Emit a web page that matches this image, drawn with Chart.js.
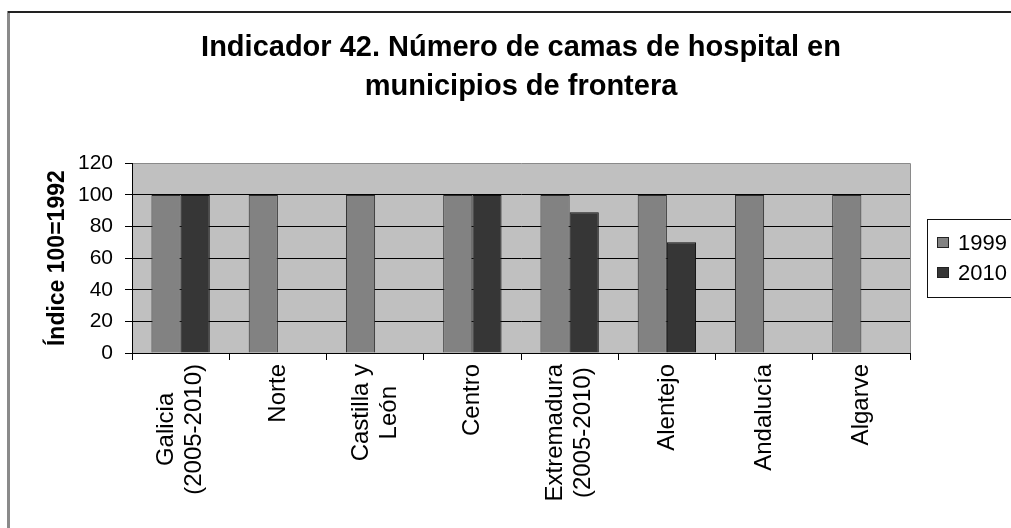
<!DOCTYPE html>
<html>
<head>
<meta charset="utf-8">
<script src="https://cdn.jsdelivr.net/npm/chart.js@4"></script>
<style>
  html, body { margin: 0; padding: 0; background: #fff; }
  #wrap { width: 1011px; height: 528px; }
</style>
</head>
<body>
<div id="wrap"><canvas id="bar-chart" width="1011" height="528"></canvas></div>
<script>
// Data
var regions = [
    ['Galicia', '(2005-2010)'],
    'Norte',
    ['Castilla y', 'León'],
    'Centro',
    ['Extremadura', '(2005-2010)'],
    'Alentejo',
    'Andalucía',
    'Algarve'
];
var values1999 = [100, 100, 100, 100, 100, 100, 100, 100];
var values2010 = [100, null, null, 100, 89, 70, null, null];
var seriesNames = ['1999', '2010'];
var yTicks = [0, 20, 40, 60, 80, 100, 120];

Chart.defaults.font.family = '"Liberation Sans", Arial, sans-serif';
Chart.defaults.color = '#000';

// plot background, frame and legend box
var decor = {
    id: 'decor',
    beforeDraw: function(chart) {
        var c = chart.ctx, a = chart.chartArea;
        c.save();
        c.fillStyle = '#fff';
        c.fillRect(0, 0, chart.width, chart.height);
        c.fillStyle = '#c0c0c0';
        c.fillRect(a.left, a.top, a.right - a.left, a.bottom - a.top);
        c.fillStyle = '#8a8a8a';
        c.fillRect(7, 11, 3, chart.height);
        c.fillStyle = '#222';
        c.fillRect(8, 11, chart.width, 2);
        c.restore();

        // center the rotated two-line category labels like the original
        var xs = chart.scales.x;
        var items = xs.getLabelItems(chart.chartArea);
        items.forEach(function(it) {
            if (it._fixed || !Array.isArray(it.label)) return;
            c.save();
            c.font = it.font.string;
            var w = 0;
            it.label.forEach(function(l) { w = Math.max(w, c.measureText(l).width); });
            c.restore();
            var lh = it.font.lineHeight;
            it.options.translation[0] -= (it.label.length - 1) * lh / 2;
            it.options.translation[1] += w / 2;
            it.options.textAlign = 'center';
            it._fixed = true;
        });
    },
    afterDraw: function(chart) {
        var c = chart.ctx, a = chart.chartArea;
        c.save();
        c.strokeStyle = '#8a8a8a';
        c.lineWidth = 1;
        c.beginPath();
        c.moveTo(a.right + 0.5, a.top);
        c.lineTo(a.right + 0.5, a.bottom);
        c.stroke();

        // legend
        c.strokeStyle = '#111';
        c.strokeRect(927.5, 219.5, 110, 78);
        c.font = '22px "Liberation Sans", Arial, sans-serif';
        c.textBaseline = 'middle';
        chart.data.datasets.forEach(function(ds, i) {
            var y = 243 + i * 30;
            c.fillStyle = ds.backgroundColor;
            c.fillRect(937, y - 6, 12, 11);
            c.strokeStyle = '#222';
            c.strokeRect(937.5, y - 5.5, 11, 10);
            c.fillStyle = '#000';
            c.fillText(ds.label, 958, y + 1);
        });
        c.restore();
    }
};

var ctx = document.getElementById('bar-chart').getContext('2d');

var config = {
    type: 'bar',
    data: {
        labels: regions,
        datasets: [{
            label: seriesNames[0],
            data: values1999,
            backgroundColor: '#828282',
            borderColor: '#2a2a2a',
            borderWidth: 1,
            categoryPercentage: 0.6,
            barPercentage: 1.0
        }, {
            label: seriesNames[1],
            data: values2010,
            backgroundColor: '#363636',
            borderColor: '#111',
            borderWidth: 1,
            categoryPercentage: 0.6,
            barPercentage: 1.0
        }]
    },
    options: {
        responsive: false,
        animation: false,
        devicePixelRatio: 1,
        layout: {
            padding: { left: 10, right: 101, top: 0, bottom: 0 }
        },
        scales: {
            x: {
                afterFit: function(scale) { scale.height = 175; },
                grid: {
                    drawOnChartArea: false,
                    color: '#000',
                    tickLength: 7,
                    offset: true
                },
                border: { color: '#000', width: 1 },
                ticks: {
                    autoSkip: false,
                    minRotation: 90,
                    maxRotation: 90,
                    padding: 4,
                    font: { size: 24, lineHeight: 1.15 }
                }
            },
            y: {
                min: 0,
                max: 120,
                afterFit: function(scale) { scale.width = 122; },
                afterBuildTicks: function(scale) {
                    scale.ticks = yTicks.map(function(v) { return { value: v }; });
                },
                grid: {
                    color: function(c) {
                        return c.tick && c.tick.value === 120 ? '#8a8a8a' : '#000';
                    },
                    tickColor: '#000',
                    tickLength: 7
                },
                border: { color: '#000', width: 1 },
                ticks: {
                    padding: 12,
                    font: { size: 21 }
                },
                title: {
                    display: true,
                    text: 'Índice 100=1992',
                    font: { size: 23, weight: 'bold' },
                    padding: { top: 34, bottom: 0 }
                }
            }
        },
        plugins: {
            legend: { display: false },
            tooltip: { enabled: false },
            title: {
                display: true,
                fullSize: false,
                text: ['Indicador 42. Número de camas de hospital en', 'municipios de frontera'],
                color: '#000',
                font: { size: 29, weight: 'bold', lineHeight: 1.35 },
                padding: { top: 28, bottom: 57 }
            }
        }
    },
    plugins: [decor]
};

var barChart = new Chart(ctx, config);
</script>
</body>
</html>
